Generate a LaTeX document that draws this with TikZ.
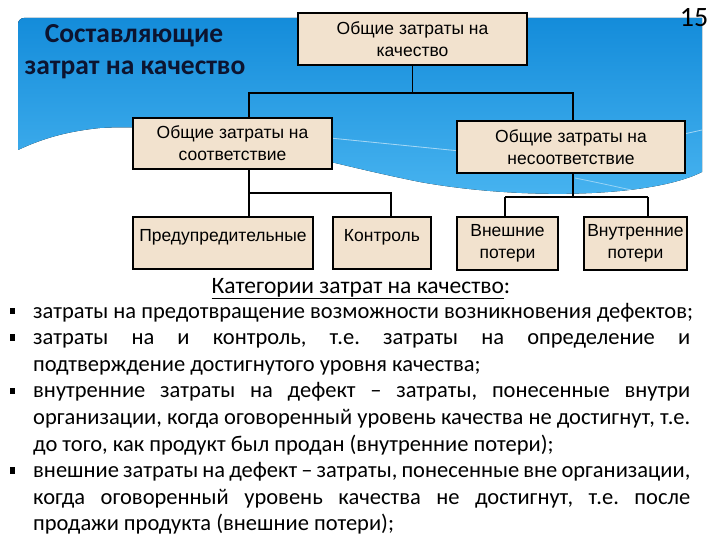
\documentclass[tikz,border=0pt]{standalone}
\usepackage{fontspec}
\setmainfont{Carlito}
\newfontfamily\boxfont{Liberation Sans}
\definecolor{beige}{RGB}{242,226,206}
\definecolor{bluetop}{RGB}{20,140,218}
\definecolor{bluebot}{RGB}{72,180,240}
\definecolor{titlecol}{RGB}{12,20,48}
\tikzset{
  cbox/.style={draw=black, line width=2.6pt, fill=beige, inner sep=0pt, align=center,
    font=\boxfont\fontsize{17.5}{22}\selectfont},
  onebox/.style={cbox, text height=10pt, text depth=14pt},
  conn/.style={draw=black, line width=1.5pt},
  txt/.style={anchor=base west, inner sep=0pt, font=\fontsize{22.5}{26}\selectfont},
  bul/.style={fill=black, inner sep=0pt, minimum width=5pt, minimum height=6.5pt},
  ttl/.style={inner sep=0pt, font=\bfseries\fontsize{27.5}{30}\selectfont, text=titlecol}
}
\frenchspacing
\begin{document}
\frenchspacing
\begin{tikzpicture}[x=1pt,y=-1pt]
\useasboundingbox (0,0) rectangle (720,540);
% blue background band
\fill[top color=bluetop, bottom color=bluebot]
  (18,24) to[out=90,in=180] (24,18) -- (702,18) -- (702,172)
  .. controls (650,198) and (520,200) .. (420,182)
  .. controls (300,158) and (200,122) .. (100,128)
  .. controls (60,132) and (35,142) .. (18,150) -- cycle;
\draw[white, opacity=0.55, line width=0.8pt] (330,138) .. controls (380,143) and (430,148) .. (470,152);
\draw[white, opacity=0.55, line width=0.8pt] (684,134) -- (702,130);
\draw[white, opacity=0.45, line width=0.8pt] (575,178) .. controls (610,185) and (630,190) .. (660,196);
% title and page number
\node[ttl] (t1) at (134,36) {Составляющие};
\node[ttl] (t2) at (135,70) {затрат на качество};
\node[inner sep=0pt, font=\fontsize{28}{30}\selectfont] (pg) at (694,18) {15};
% boxes
\node[cbox, minimum width=229pt, minimum height=52pt] (q) at (412.5,39) {Общие затраты на\\качество};
\node[cbox, minimum width=199pt, minimum height=51pt] (s) at (232.5,143.5) {Общие затраты на\\соответствие};
\node[cbox, minimum width=228pt, minimum height=52pt] (n) at (571,147) {Общие затраты на\\несоответствие};
\node[onebox, minimum width=180pt, minimum height=52pt] (p) at (223,243) {Предупредительные};
\node[onebox, minimum width=98pt, minimum height=52pt] (k) at (382,243) {Контроль};
\node[cbox, minimum width=101pt, minimum height=53pt] (ve) at (507.5,243.5) {Внешние\\потери};
\node[cbox, minimum width=103pt, minimum height=53pt] (vn) at (635.5,243.5) {Внутренние\\потери};
% junction coordinates
\coordinate (ja) at (249,93);
\coordinate (jb) at (573,93);
\coordinate (jc) at (391,193);
\coordinate (jd) at (505,197);
\coordinate (je) at (648,197);
% connectors
\draw[conn] (q.south) |- (ja) -- (ja |- s.north);
\draw[conn] (q.south) |- (jb) -- (jb |- n.north);
\draw[conn] (ja |- s.south) -- (ja |- p.north);
\draw[conn] (249,193) -- (jc) -- (jc |- k.north);
\draw[conn] (jb |- n.south) -- (573,197);
\draw[conn] (jd) -- (je);
\draw[conn] (jd) -- (jd |- ve.north);
\draw[conn] (je) -- (je |- vn.north);
% text part
\node[anchor=base, inner sep=0pt, font=\fontsize{23.5}{26}\selectfont] (h) at (361,293) {\underline{Категории затрат на качество}:};
\node[bul] (b1) at (12,311) {};
\node[bul] (b2) at (12,337.6) {};
\node[bul] (b3) at (12,390.8) {};
\node[bul] (b4) at (12,470.6) {};
\node[txt] (l1) at (33,318) {затраты на предотвращение возможности возникновения дефектов;};
\node[txt] (l2) at (33,344.6) {\makebox[657pt][s]{затраты на и контроль, т.е. затраты на определение и}};
\node[txt] (l3) at (33,371.2) {подтверждение достигнутого уровня качества;};
\node[txt] (l4) at (33,397.8) {\makebox[657pt][s]{внутренние затраты на дефект – затраты, понесенные внутри}};
\node[txt] (l5) at (33,424.4) {\makebox[657pt][s]{организации, когда оговоренный уровень качества не достигнут, т.е.}};
\node[txt] (l6) at (33,451) {до того, как продукт был продан (внутренние потери);};
\node[txt] (l7) at (33,477.6) {\makebox[657pt][s]{внешние затраты на дефект – затраты, понесенные вне организации,}};
\node[txt] (l8) at (33,504.2) {\makebox[657pt][s]{когда оговоренный уровень качества не достигнут, т.е. после}};
\node[txt] (l9) at (33,530.8) {продажи продукта (внешние потери);};
\end{tikzpicture}
\end{document}
